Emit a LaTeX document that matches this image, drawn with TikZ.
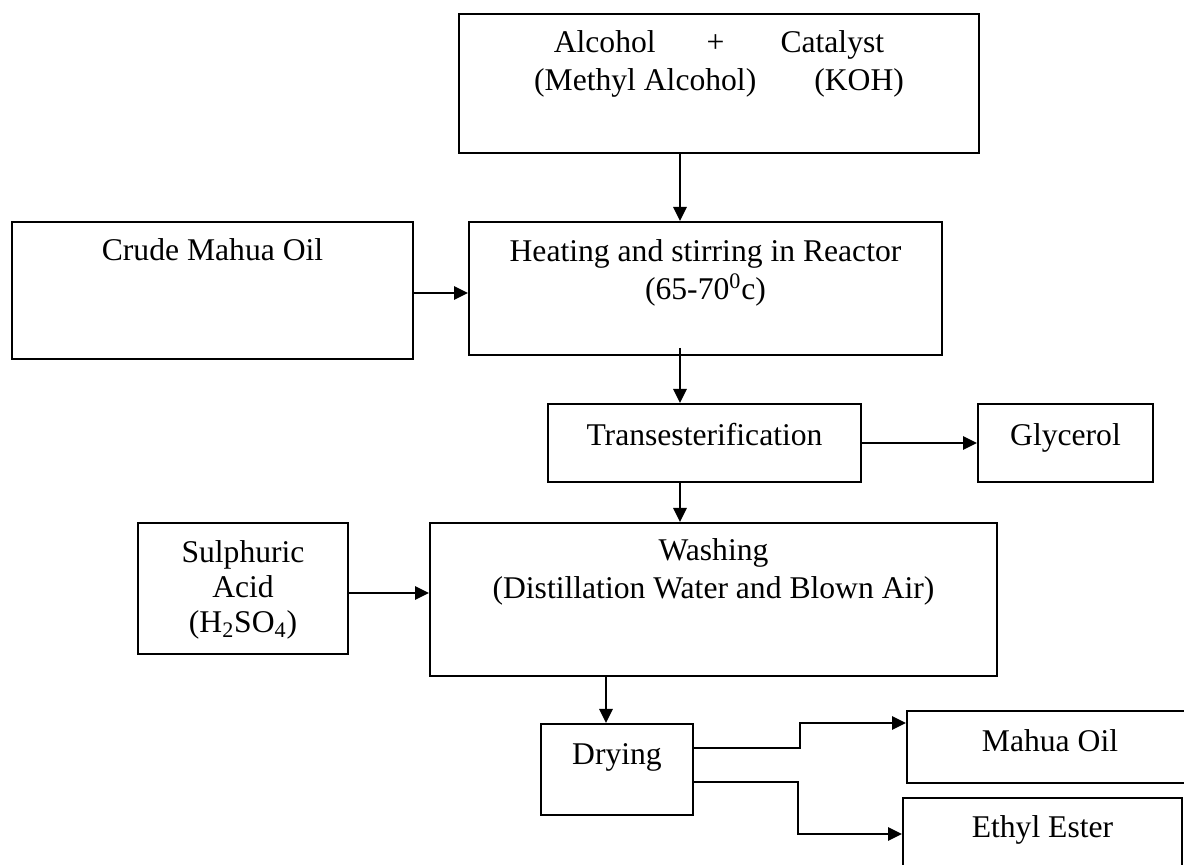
\documentclass[tikz,border=0pt]{standalone}
\usepackage{fontspec}
\setmainfont{Liberation Serif}
\usetikzlibrary{positioning,arrows.meta}

\tikzset{
  box/.style = {draw, line width=1.1pt, inner sep=0pt},
  boxtext/.style = {align=center, inner sep=0pt, font=\fontsize{18}{22}\selectfont},
  flow/.style = {line width=1.3pt, -{Triangle[length=8pt,width=7.5pt]}}
}

\begin{document}
\begin{tikzpicture}[x=0.02cm, y=-0.02cm]
  \useasboundingbox (0,0) rectangle (1184,865);
  \coordinate (spine) at (680,0);
  \coordinate (drop) at (606,0);

  \node[box, minimum width=10.4cm, minimum height=2.78cm] (alc) at (719,83.5) {};
  \node[box, minimum width=8.02cm, minimum height=2.74cm] (crude) at (212.5,290.5) {};
  \node[box, minimum width=9.46cm, minimum height=2.66cm] (heat) at (705.5,288.5) {};
  \node[box, minimum width=6.26cm, minimum height=1.56cm] (trans) at (704.5,443) {};
  \node[box, minimum width=3.5cm, minimum height=1.56cm] (gly) at (1065.5,443) {};
  \node[box, minimum width=4.2cm, minimum height=2.62cm] (sulph) at (243,588.5) {};
  \node[box, minimum width=11.34cm, minimum height=3.06cm] (wash) at (713.5,599.5) {};
  \node[box, minimum width=3.04cm, minimum height=1.82cm] (dry) at (617,769.5) {};
  \node[box, minimum width=5.72cm, minimum height=1.44cm] (mahua) at (1050,747) {};
  \node[box, minimum width=5.58cm, minimum height=1.6cm] (ethyl) at (1042.5,838) {};

  \node[boxtext, below=0.34cm of alc.north] (alctext)
    {Alcohol\hspace{1.02cm}+\hspace{1.12cm}Catalyst\\(Methyl Alcohol)\hspace{1.16cm}(KOH)};
  \node[boxtext, below=0.34cm of crude.north] (crudetext) {Crude Mahua Oil};
  \node[boxtext, below=0.36cm of heat.north] (heattext)
    {Heating and stirring in Reactor\\(65-70\textsuperscript{0}c)};
  \node[boxtext, below=0.4cm of trans.north] (transtext) {Transesterification};
  \node[boxtext, below=0.4cm of gly.north] (glytext) {Glycerol};
  \node[boxtext, font=\fontsize{18}{20}\selectfont, below=0.36cm of sulph.north] (sulphtext)
    {Sulphuric\\Acid\\(H\textsubscript{2}SO\textsubscript{4})};
  \node[boxtext, below=0.32cm of wash.north] (washtext)
    {Washing\\(Distillation Water and Blown Air)};
  \node[boxtext, below=0.4cm of dry.north] (drytext) {Drying};
  \node[boxtext, below=0.38cm of mahua.north] (mahuatext) {Mahua Oil};
  \node[boxtext, below=0.36cm of ethyl.north] (ethyltext) {Ethyl Ester};

  \draw[flow] (alc.south -| spine) -- (heat.north -| spine);
  \draw[flow] ([yshift=-0.05cm]crude.east) -- ([yshift=-0.05cm]crude.east -| heat.west);
  \draw[flow] ([yshift=0.16cm]heat.south -| spine) -- (trans.north -| spine);
  \draw[flow] (trans.east) -- (gly.west);
  \draw[flow] (trans.south -| spine) -- (wash.north -| spine);
  \draw[flow] ([yshift=-0.09cm]sulph.east) -- ([yshift=-0.09cm]sulph.east -| wash.west);
  \draw[flow] (wash.south -| drop) -- (dry.north -| drop);
  \draw[flow] ([yshift=0.43cm]dry.east) -- ++(106,0) |- ([yshift=0.48cm]mahua.west);
  \draw[flow] ([yshift=-0.25cm]dry.east) -- ++(104,0) |- ([yshift=0.08cm]ethyl.west);
\end{tikzpicture}
\end{document}
